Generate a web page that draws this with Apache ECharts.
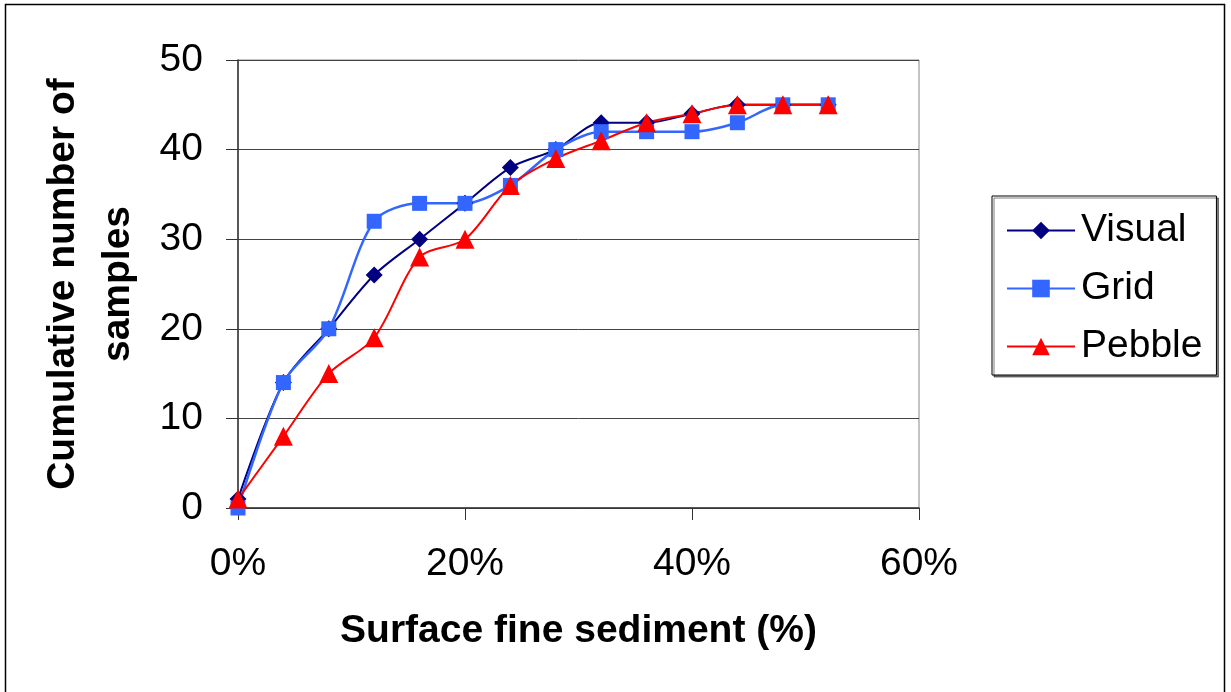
<!DOCTYPE html>
<html>
<head>
<meta charset="utf-8">
<title>Cumulative number of samples</title>
<script src="https://cdn.jsdelivr.net/npm/echarts@6/dist/echarts.min.js"></script>
<style>
  html, body { margin: 0; padding: 0; background: #fff; }
  #chart { width: 1231px; height: 692px; }
</style>
</head>
<body>
<div id="chart"></div>
<script>
// surface fine sediment (fraction), one value per sample class
var fines = [0, 0.04, 0.08, 0.12, 0.16, 0.20, 0.24, 0.28, 0.32, 0.36, 0.40, 0.44, 0.48, 0.52];
var visual = [1, 14, 20, 26, 30, 34, 38, 40, 43, 43, 44, 45, 45, 45];
var grid = [0, 14, 20, 32, 34, 34, 36, 40, 42, 42, 42, 43, 45, 45];
var pebble = [1, 8, 15, 19, 28, 30, 36, 39, 41, 43, 44, 45, 45, 45];
var yTicks = [0, 10, 20, 30, 40, 50];
var xTicks = [0, 0.2, 0.4, 0.6];

(function () {
    var myChart = echarts.init(document.getElementById("chart"));
    var font = 'Arial, "Liberation Sans", sans-serif';

    function pairs(ys) {
        return fines.map(function (x, i) { return [x, ys[i]]; });
    }

    function line(name, ys, color, symbol, size, width) {
        return {
            name: name,
            type: "line",
            data: pairs(ys),
            smooth: 0.3,
            symbol: symbol,
            symbolSize: size,
            lineStyle: { color: color, width: width },
            itemStyle: { color: color },
            z: 3
        };
    }

    var option = {
        backgroundColor: "#fff",
        animation: false,
        textStyle: { fontFamily: font },
        grid: {
            left: 238,
            top: 60,
            right: 312,
            bottom: 184,
            show: true,
            borderColor: "#888",
            borderWidth: 1
        },
        legend: {
            orient: "vertical",
            left: 992,
            top: 196,
            padding: [14, 14, 8, 14],
            itemWidth: 68,
            itemHeight: 22,
            itemGap: 17,
            borderColor: "#000",
            borderWidth: 1,
            backgroundColor: "#fff",
            shadowColor: "rgba(0,0,0,0.5)",
            shadowOffsetX: 2,
            shadowOffsetY: 2,
            shadowBlur: 0,
            textStyle: { fontSize: 39, color: "#000", fontFamily: font, lineHeight: 41, padding: [0, 0, 0, 1] },
            data: ["Visual", "Grid", "Pebble"]
        },
        xAxis: {
            type: "value",
            min: xTicks[0],
            max: xTicks[xTicks.length - 1],
            interval: 0.2,
            name: "Surface fine sediment (%)",
            nameLocation: "middle",
            nameGap: 104,
            nameTextStyle: { fontSize: 39, fontWeight: "bold", color: "#000", fontFamily: font },
            axisLine: { lineStyle: { color: "#333", width: 1.5 } },
            axisTick: { show: true, inside: false, length: 12, lineStyle: { color: "#333" } },
            axisLabel: {
                margin: 37,
                fontSize: 39,
                color: "#000",
                fontFamily: font,
                formatter: function (v) { return Math.round(v * 100) + "%"; }
            },
            splitLine: { show: false }
        },
        yAxis: {
            type: "value",
            min: yTicks[0],
            max: yTicks[yTicks.length - 1],
            interval: 10,
            name: "Cumulative number of\nsamples",
            nameLocation: "middle",
            nameRotate: 90,
            nameGap: 92,
            nameTextStyle: { fontSize: 39, fontWeight: "bold", color: "#000", lineHeight: 55, fontFamily: font },
            axisLine: { show: true, lineStyle: { color: "#333", width: 1.5 } },
            axisTick: { show: true, inside: false, length: 12, lineStyle: { color: "#333" } },
            axisLabel: { margin: 35, fontSize: 39, color: "#000", fontFamily: font },
            splitLine: { show: true, lineStyle: { color: "#444", width: 1 } }
        },
        series: [
            line("Visual", visual, "#000080", "diamond", 17, 2),
            line("Grid", grid, "#3366ff", "rect", 15, 2.5),
            line("Pebble", pebble, "#ff0000", "triangle", 19, 2)
        ],
        graphic: [
            {
                type: "rect",
                shape: { x: 5.5, y: 4.5, width: 1219, height: 690 },
                style: { fill: "none", stroke: "#000", lineWidth: 1.5 },
                silent: true
            }
        ]
    };

    myChart.setOption(option);
    window.addEventListener("resize", function () {
        myChart.resize();
    });
})();
</script>
</body>
</html>
